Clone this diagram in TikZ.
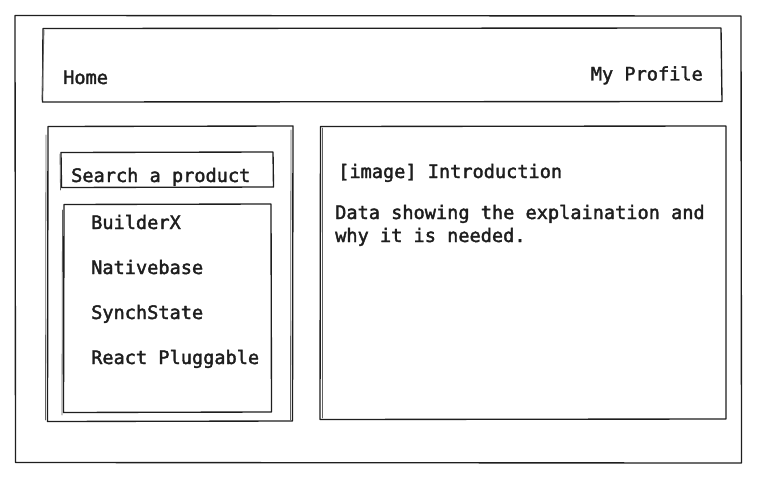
\documentclass[tikz,border=0pt]{standalone}
\usepackage{fontspec}
\setmonofont[FakeBold=2]{DejaVu Sans Mono}
\definecolor{ink}{HTML}{1E1E1E}
\begin{document}
\begin{tikzpicture}[x=1pt,y=-1pt,
  sketch/.style={draw=ink,line width=1.35pt,line join=round,line cap=round},
  thin sketch/.style={draw=ink!70,line width=0.8pt,line cap=round},
  label/.style={font=\ttfamily\fontsize{18.6}{23}\selectfont,text=ink,inner sep=0pt,anchor=base west},
  rlabel/.style={label,anchor=base east}]
\useasboundingbox (0,0) rectangle (762,484);
\fill[white] (0,0) rectangle (762,484);
% outer frame
\draw[sketch] (15,15.5) -- (741,16) -- (741.5,463) -- (15.5,462.5) -- cycle;
% header
\draw[sketch] (43,28.5) -- (721,28) -- (722,101.5) -- (42.5,102) -- cycle;
\draw[thin sketch] (44,30) -- (42,100);
% left panel
\draw[sketch] (48,126.5) -- (293,126) -- (292.5,421) -- (47.5,421.5) -- cycle;
\draw[thin sketch] (46,135) -- (45.5,420);
\draw[thin sketch] (291,130) -- (290.5,420);
% search box
\draw[sketch] (61,152.5) -- (273,152) -- (273.5,187) -- (61.5,187.5) -- cycle;
\draw[thin sketch] (60,154) -- (60.5,190);
% list box
\draw[sketch] (64,204.5) -- (271,204) -- (271.5,412) -- (63.5,412.5) -- cycle;
\draw[thin sketch] (62.5,210) -- (62,415);
% right panel
\draw[sketch] (320.5,126.5) -- (726,126) -- (726,419) -- (320,419.5) -- cycle;
\draw[thin sketch] (322,128) -- (322,418);
% texts
\node[label] (home) at (63,84) {Home};
\node[rlabel] (profile) at (703,80.5) {My Profile};
\node[label] (search) at (71,182) {Search a product};
\node[label] (builderx) at (91,229) {BuilderX};
\node[label] (nativebase) at (91,274) {Nativebase};
\node[label] (synch) at (91,319) {SynchState};
\node[label] (react) at (91,364) {React Pluggable};
\node[label] (intro) at (338,178) {[image] Introduction};
\node[label] (data1) at (335,219) {Data showing the explaination and};
\node[label] (data2) at (335,242) {why it is needed.};
\end{tikzpicture}
\end{document}
